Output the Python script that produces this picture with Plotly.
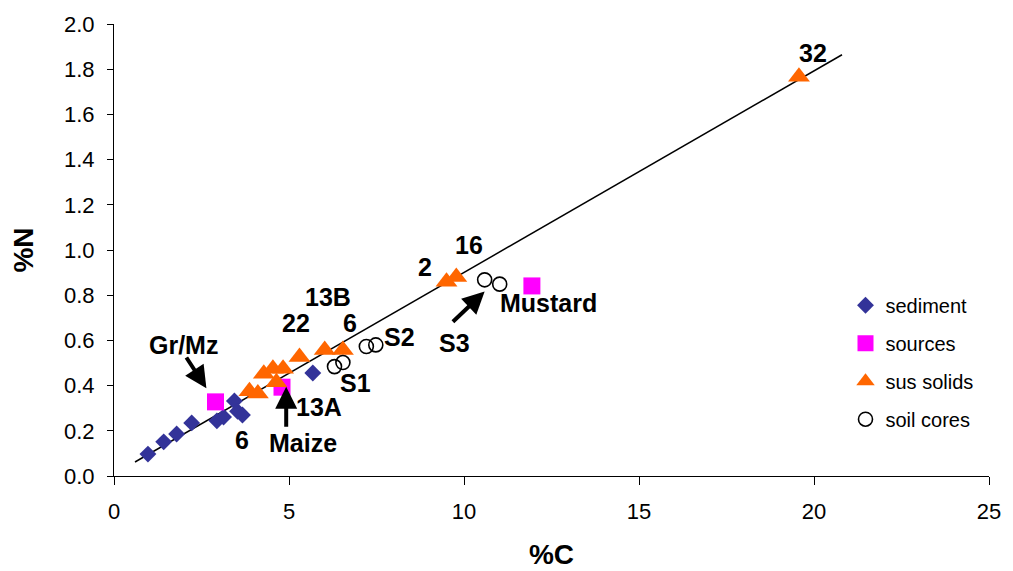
import plotly.graph_objects as go

# --- data ---
sed_c = [0.97, 1.42, 1.79, 2.22, 2.94, 3.13, 3.44, 3.53, 3.67, 5.68]
sed_n = [0.097, 0.151, 0.186, 0.235, 0.244, 0.261, 0.332, 0.286, 0.270, 0.456]

src_c = [2.90, 4.80, 11.94]
src_n = [0.328, 0.393, 0.841]

sus_c = [3.87, 4.11, 4.28, 4.54, 4.83, 4.64, 5.30, 6.02, 6.54, 9.50, 9.78, 19.57]
sus_n = [0.375, 0.365, 0.452, 0.475, 0.475, 0.415, 0.527, 0.557, 0.557, 0.860, 0.880, 1.767]

soil_c = [6.30, 6.54, 7.21, 7.48, 10.59, 11.02]
soil_n = [0.484, 0.502, 0.573, 0.580, 0.868, 0.849]

trend_c = [0.6, 20.8]
trend_n = [0.062, 1.864]

x_ticks = [0, 5, 10, 15, 20, 25]
y_ticks = [0.0, 0.2, 0.4, 0.6, 0.8, 1.0, 1.2, 1.4, 1.6, 1.8, 2.0]

labels_text = ["32", "16", "2", "13B", "22", "6", "S2", "S1", "S3", "Mustard", "Gr/Mz", "13A", "Maize", "6"]
labels_c = [19.98, 10.14, 8.88, 6.11, 5.19, 6.73, 8.16, 6.90, 9.73, 12.40, 1.99, 5.86, 5.40, 3.66]
labels_n = [1.872, 1.023, 0.927, 0.791, 0.679, 0.676, 0.614, 0.411, 0.590, 0.765, 0.580, 0.307, 0.145, 0.159]

# arrows: (tail C, tail N, head C, head N)
arrow_tail_c = [2.04, 4.92, 9.64]
arrow_tail_n = [0.531, 0.211, 0.676]
arrow_head_c = [2.64, 4.92, 10.59]
arrow_head_n = [0.388, 0.395, 0.816]

FONT = "Liberation Sans, Arial, sans-serif"

fig = go.Figure()

fig.add_trace(go.Scatter(x=trend_c, y=trend_n, mode="lines",
                         line=dict(color="black", width=1.5),
                         showlegend=False, hoverinfo="skip"))

fig.add_trace(go.Scatter(x=sed_c, y=sed_n, mode="markers", name="sediment",
                         legendgroup="a",
                         marker=dict(symbol="diamond", size=13, color="#333399")))
fig.add_trace(go.Scatter(x=src_c, y=src_n, mode="markers", name="sources",
                         legendgroup="b",
                         marker=dict(symbol="square", size=17, color="#FF00FF")))
fig.add_trace(go.Scatter(x=sus_c, y=sus_n, mode="markers", name="sus solids",
                         legendgroup="c",
                         marker=dict(symbol="triangle-up", size=19, color="#FF6600")))
fig.add_trace(go.Scatter(x=soil_c, y=soil_n, mode="markers", name="soil cores",
                         legendgroup="d",
                         marker=dict(symbol="circle-open", size=14, color="black",
                                     line=dict(width=1.6, color="black"))))

annotations = []
for t, c, n in zip(labels_text, labels_c, labels_n):
    annotations.append(dict(x=c, y=n, xref="x", yref="y", text="<b>%s</b>" % t,
                            showarrow=False, font=dict(family=FONT, size=25, color="black")))
for tc, tn, hc, hn in zip(arrow_tail_c, arrow_tail_n, arrow_head_c, arrow_head_n):
    annotations.append(dict(x=hc, y=hn, xref="x", yref="y", ax=tc, ay=tn,
                            axref="x", ayref="y", text="", showarrow=True,
                            arrowhead=2, arrowsize=1.1, arrowwidth=4,
                            arrowcolor="black", standoff=0))

fig.update_layout(
    width=1013, height=571,
    margin=dict(l=114, r=24, t=24, b=95),
    paper_bgcolor="white", plot_bgcolor="white",
    font=dict(family=FONT, color="black"),
    annotations=annotations,
    legend=dict(x=0.836, y=0.421, xanchor="left", yanchor="top",
                font=dict(family=FONT, size=20, color="black"),
                tracegroupgap=9, traceorder="grouped",
                bgcolor="rgba(0,0,0,0)"),
    xaxis=dict(range=[0, 25], tickvals=x_ticks, ticktext=[str(v) for v in x_ticks],
               showgrid=False, zeroline=False, showline=True, linecolor="black",
               linewidth=1, ticks="outside", ticklen=8, tickcolor="black",
               tickfont=dict(family=FONT, size=22), ticklabelstandoff=8,
               automargin=False,
               title=dict(text="<b>%C</b>", font=dict(family=FONT, size=28), standoff=20)),
    yaxis=dict(range=[0, 2.0], tickvals=y_ticks, ticktext=["%.1f" % v for v in y_ticks],
               showgrid=False, zeroline=False, showline=True, linecolor="black",
               linewidth=1, ticks="outside", ticklen=6, tickcolor="black",
               tickfont=dict(family=FONT, size=22), ticklabelstandoff=8,
               automargin=False,
               title=dict(text="<b>%N</b>", font=dict(family=FONT, size=28), standoff=22)),
)

fig.write_html("out.html")
